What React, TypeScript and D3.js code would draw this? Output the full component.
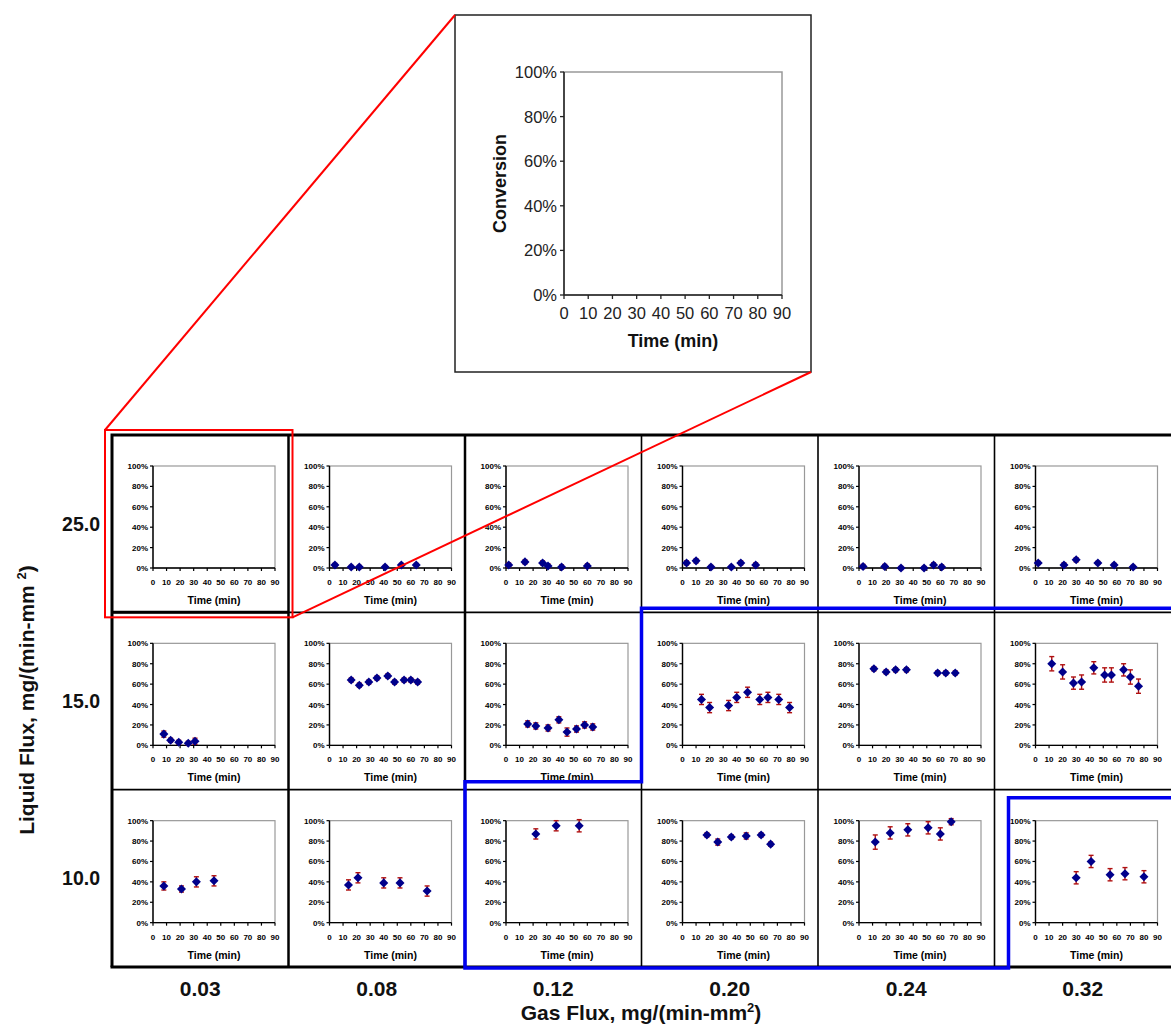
import React from "react";
import * as d3 from "d3";

// grid categories
const gasFlux = ["0.03", "0.08", "0.12", "0.20", "0.24", "0.32"];
const liquidFlux = ["25.0", "15.0", "10.0"];
const timeTicks = [0, 10, 20, 30, 40, 50, 60, 70, 80, 90];
const convTicks = [0, 20, 40, 60, 80, 100];

// liquid flux 25.0 (one list per gas flux column)
const time25 = [[], [4, 16, 22, 41, 53, 64], [2, 14, 27, 31, 41, 60], [3, 10, 21, 36, 43, 54], [3, 19, 31, 48, 55, 61], [2, 21, 30, 46, 58, 72]];
const conv25 = [[], [3, 1, 1, 1, 3, 3], [3, 6, 5, 2, 1, 2], [5, 7, 1, 1, 5, 3], [1.5, 1.5, 0, 0, 3, 1], [5, 3, 8, 5, 3, 1]];
const err25 = [[], [1.5, 1.5, 1.5, 1.5, 1.5, 1.5], [2, 2, 2, 2, 2, 2], [2, 2, 1.5, 1.5, 2, 2], [2, 2, 1.5, 1.5, 2, 2], [1.5, 2, 2, 1.5, 1.5, 1.5]];

// liquid flux 15.0
const time15 = [[8, 13, 19, 26, 31], [16, 22, 29, 35, 43, 48, 55, 60, 65], [16, 22, 31, 39, 45, 52, 58, 64], [14, 20, 34, 40, 48, 57, 63, 71, 79], [11, 20, 27, 35, 58, 64, 71], [12, 20, 28, 34, 43, 51, 56, 65, 70, 76]];
const conv15 = [[11, 5, 3, 2, 4], [64, 59, 62, 66, 68, 62, 64, 64, 62], [21, 19, 17, 25, 13, 16, 20, 18], [45, 37, 39, 47, 52, 45, 47, 45, 37], [75, 72, 74, 74, 71, 71, 71], [80, 72, 61, 62, 76, 69, 69, 74, 67, 58]];
const err15 = [[3, 2, 2, 2, 3], [2, 2, 2, 2, 2, 2, 2, 2, 2], [3, 3, 3, 3, 4, 3, 3, 3], [5, 5, 5, 5, 5, 5, 5, 5, 5], [2, 2, 2, 2, 2, 2, 2], [7, 7, 6, 7, 6, 7, 7, 6, 7, 7]];

// liquid flux 10.0
const time10 = [[8, 21, 32, 45], [14, 21, 40, 52, 72], [22, 37, 54], [18, 26, 36, 47, 58, 65], [12, 23, 36, 51, 60, 68], [30, 41, 55, 66, 80]];
const conv10 = [[36, 33, 40, 41], [37, 44, 39, 39, 31], [87, 95, 95], [86, 79, 84, 85, 86, 77], [79, 88, 91, 93, 87, 99], [44, 60, 47, 48, 45]];
const err10 = [[4, 3, 5, 5], [5, 5, 5, 5, 5], [5, 5, 6], [2, 3, 2, 3, 2, 2], [7, 6, 6, 6, 6, 3], [6, 6, 6, 6, 6]];

const timesByRow = [time25, time15, time10];
const convByRow = [conv25, conv15, conv10];
const errByRow = [err25, err15, err10];

const FONT = "'Liberation Sans', Arial, sans-serif";
const MARKER = "#00008B";
const ERRCOL = "#B01010";

const diamond = d3.symbol().type((d3 as any).symbolDiamond2 || d3.symbolDiamond).size(52)();

const SmallPanel = ({ cx, cy, times, conv, err }) => {
  const x = d3.scaleLinear().domain([0, 90]).range([cx + 41, cx + 163]);
  const y = d3.scaleLinear().domain([0, 100]).range([cy + 133, cy + 31]);
  const [x0, x1] = x.range();
  const [y0, y1] = y.range();
  return (
    <g>
      <rect x={x0} y={y1} width={x1 - x0} height={y0 - y1} fill="white" stroke="#999" strokeWidth={1.2} />
      <line x1={x0} x2={x0} y1={y1} y2={y0} stroke="black" strokeWidth={1.4} />
      <line x1={x0} x2={x1} y1={y0} y2={y0} stroke="black" strokeWidth={1.4} />
      {convTicks.map(t => (
        <g key={"y" + t}>
          <line x1={x0 - 3} x2={x0} y1={y(t)} y2={y(t)} stroke="black" strokeWidth={1.2} />
          <text x={x0 - 5} y={y(t) + 3} fontSize={8} fontWeight="bold" textAnchor="end" fontFamily={FONT}>{t + "%"}</text>
        </g>
      ))}
      {timeTicks.map(t => (
        <g key={"x" + t}>
          <line x1={x(t)} x2={x(t)} y1={y0} y2={y0 + 3} stroke="black" strokeWidth={1.2} />
          <text x={x(t)} y={y0 + 17} fontSize={8} fontWeight="bold" textAnchor="middle" fontFamily={FONT}>{t}</text>
        </g>
      ))}
      <text x={(x0 + x1) / 2} y={y0 + 36} fontSize={10.5} fontWeight="bold" textAnchor="middle" fontFamily={FONT}>Time (min)</text>
      {times.map((t, i) => (
        <g key={"e" + i} stroke={ERRCOL} strokeWidth={1.4}>
          <line x1={x(t)} x2={x(t)} y1={y(conv[i] - err[i])} y2={y(conv[i] + err[i])} />
          <line x1={x(t) - 2.5} x2={x(t) + 2.5} y1={y(conv[i] - err[i])} y2={y(conv[i] - err[i])} />
          <line x1={x(t) - 2.5} x2={x(t) + 2.5} y1={y(conv[i] + err[i])} y2={y(conv[i] + err[i])} />
        </g>
      ))}
      {times.map((t, i) => (
        <path key={"m" + i} d={diamond} transform={`translate(${x(t)},${y(conv[i])})`} fill={MARKER} />
      ))}
    </g>
  );
};

const App = () => {
  const W = 1171;
  const H = 1026;
  const col = d3.scaleBand().domain(gasFlux).range([112, 1171]);
  const row = d3.scaleBand().domain(liquidFlux).range([435, 967]);
  const cw = col.bandwidth();
  const rh = row.bandwidth();

  // inset (zoomed view of the 0.03 / 25.0 panel)
  const ix = d3.scaleLinear().domain([0, 90]).range([564, 782]);
  const iy = d3.scaleLinear().domain([0, 100]).range([295, 72]);
  const box = { x0: 455, y0: 15, x1: 811, y1: 372 };

  const c0 = col(gasFlux[0]);
  const r0 = row(liquidFlux[0]);
  const red = { x0: c0 - 7, y0: r0 - 5, x1: c0 + cw + 4, y1: r0 + rh + 5 };

  const bluePath = [
    [W, row(liquidFlux[1]) - 4],
    [col(gasFlux[3]), row(liquidFlux[1]) - 4],
    [col(gasFlux[3]), row(liquidFlux[2]) - 8],
    [col(gasFlux[2]), row(liquidFlux[2]) - 8],
    [col(gasFlux[2]), 968],
    [col(gasFlux[5]) + 14, 968],
    [col(gasFlux[5]) + 14, row(liquidFlux[2]) + 8],
    [W, row(liquidFlux[2]) + 8],
  ];

  return (
    <div style={{ position: "absolute", left: 0, top: 0 }}>
      <svg width={W} height={H} style={{ display: "block", background: "white" }}>
        {/* inset */}
        <rect x={box.x0} y={box.y0} width={box.x1 - box.x0} height={box.y1 - box.y0} fill="white" stroke="#222" strokeWidth={1.5} />
        <rect x={ix(0)} y={iy(100)} width={ix(90) - ix(0)} height={iy(0) - iy(100)} fill="white" stroke="#999" strokeWidth={1.5} />
        <line x1={ix(0)} x2={ix(0)} y1={iy(100)} y2={iy(0)} stroke="#222" strokeWidth={1.5} />
        <line x1={ix(0)} x2={ix(90)} y1={iy(0)} y2={iy(0)} stroke="#222" strokeWidth={1.5} />
        {convTicks.map(t => (
          <g key={"iy" + t}>
            <line x1={ix(0) - 4} x2={ix(0)} y1={iy(t)} y2={iy(t)} stroke="#222" strokeWidth={1.3} />
            <text x={ix(0) - 7} y={iy(t) + 6} fontSize={16.5} textAnchor="end" fontFamily={FONT} fill="#222">{t + "%"}</text>
          </g>
        ))}
        {timeTicks.map(t => (
          <g key={"ix" + t}>
            <line x1={ix(t)} x2={ix(t)} y1={iy(0)} y2={iy(0) + 4} stroke="#222" strokeWidth={1.3} />
            <text x={ix(t)} y={iy(0) + 24} fontSize={16.5} textAnchor="middle" fontFamily={FONT} fill="#222">{t}</text>
          </g>
        ))}
        <text x={(ix(0) + ix(90)) / 2} y={347} fontSize={18} fontWeight="bold" textAnchor="middle" fontFamily={FONT} fill="#111">Time (min)</text>
        <text transform={`translate(506,${(iy(0) + iy(100)) / 2}) rotate(-90)`} fontSize={18} fontWeight="bold" textAnchor="middle" fontFamily={FONT} fill="#111">Conversion</text>

        {/* panels */}
        {liquidFlux.map((lf, ri) =>
          gasFlux.map((gf, ci) => (
            <SmallPanel key={lf + gf} cx={col(gf)} cy={row(lf)} times={timesByRow[ri][ci]} conv={convByRow[ri][ci]} err={errByRow[ri][ci]} />
          ))
        )}

        {/* grid */}
        {gasFlux.slice(1).map(gf => (
          <line key={"v" + gf} x1={col(gf)} x2={col(gf)} y1={row.range()[0]} y2={row.range()[1]} stroke="black" strokeWidth={gf === "0.08" || gf === "0.12" ? 2.5 : 1.6} />
        ))}
        {liquidFlux.slice(1).map(lf => (
          <line key={"h" + lf} x1={112} x2={W} y1={row(lf)} y2={row(lf)} stroke="black" strokeWidth={1.6} />
        ))}
        <line x1={112} x2={c0 + cw} y1={row(liquidFlux[1])} y2={row(liquidFlux[1])} stroke="black" strokeWidth={3} />
        <path d={`M112,${row.range()[1]}V${row.range()[0]}H${W}`} fill="none" stroke="black" strokeWidth={3} />
        <line x1={110.5} x2={W} y1={row.range()[1]} y2={row.range()[1]} stroke="black" strokeWidth={3} />

        {/* highlight */}
        <path d={d3.line()(bluePath)} fill="none" stroke="#0000F0" strokeWidth={3.5} />
        <rect x={red.x0} y={red.y0} width={red.x1 - red.x0} height={red.y1 - red.y0} fill="none" stroke="#FF0000" strokeWidth={2} />
        <line x1={red.x0} y1={red.y0} x2={box.x0} y2={box.y0} stroke="#FF0000" strokeWidth={2} />
        <line x1={red.x1} y1={red.y1} x2={box.x1} y2={box.y1} stroke="#FF0000" strokeWidth={2} />

        {/* axis labels */}
        {liquidFlux.map(lf => (
          <text key={"rl" + lf} x={100} y={row(lf) + rh / 2 + 7} fontSize={19.5} fontWeight="bold" textAnchor="end" fontFamily={FONT} fill="#111">{lf}</text>
        ))}
        {gasFlux.map(gf => (
          <text key={"cl" + gf} x={col(gf) + cw / 2} y={996} fontSize={21} fontWeight="bold" textAnchor="middle" fontFamily={FONT} fill="#111">{gf}</text>
        ))}
        <text x={641} y={1020} fontSize={21} fontWeight="bold" textAnchor="middle" fontFamily={FONT} fill="#111">
          Gas Flux, mg/(min-mm<tspan dy={-8} fontSize={13}>2</tspan><tspan dy={8}>)</tspan>
        </text>
        <text transform={`translate(34,700) rotate(-90)`} fontSize={21} fontWeight="bold" textAnchor="middle" fontFamily={FONT} fill="#111">
          Liquid Flux, mg/(min-mm <tspan dy={-8} fontSize={13}>2</tspan><tspan dy={8}>)</tspan>
        </text>
      </svg>
    </div>
  );
};

export default App;
